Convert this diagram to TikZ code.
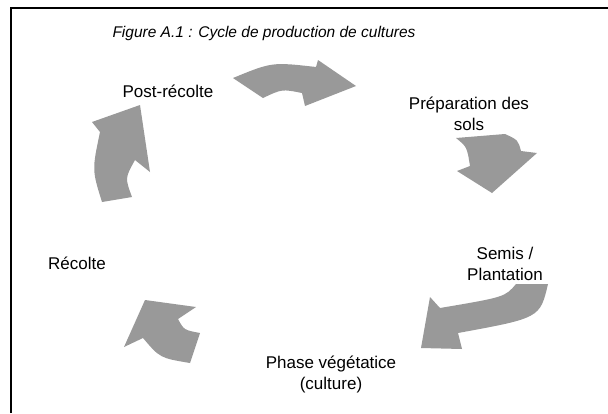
\documentclass[tikz,border=0pt]{standalone}
\usepackage{fontspec}
\setmainfont{Liberation Sans}
\usepackage{tikz}
\usetikzlibrary{positioning}
\definecolor{arrowgray}{RGB}{153,153,153}

\begin{document}
\begin{tikzpicture}[x=1pt,y=-1pt,
    stage/.style={align=center,inner sep=0pt,font=\fontsize{17}{21}\selectfont},
    cyclearrow/.style={fill=arrowgray,draw=none}]
  \useasboundingbox (0,0) rectangle (608,413);
  \draw[line width=2pt] (11,413) -- (11,8) -- (608,8);
  \node[font=\fontsize{15.5}{18}\selectfont\itshape] (title) at (264,33) {Figure A.1 : Cycle de production de cultures};
  \node[stage] (post) at (168,91) {Post-récolte};
  \node[stage] (prep) at (469,114) {Préparation des\\sols};
  \node[stage] (semis) at (505,264) {Semis /\\Plantation};
  \node[stage] (phase) at (331,374) {Phase végétatice\\(culture)};
  \node[stage] (recolte) at (77,263) {Récolte};
  % Post-récolte -> Préparation
  \fill[cyclearrow] (233,78) .. controls (272,62) .. (316,67) -- (318,60) -- (356,86)
    -- (305,106) -- (302,93) .. controls (282,89) .. (263,98) -- cycle;
  % Préparation -> Semis
  \fill[cyclearrow] (505,134) .. controls (518,140) .. (521,151) -- (537,153) -- (492,193)
    -- (457,171) -- (470,166) .. controls (467,147) .. (456,138) -- cycle;
  % Semis -> Phase
  \fill[cyclearrow] (548,284) .. controls (540,318) .. (458,333) -- (462,349) -- (421,348)
    -- (430,297) -- (440,308) .. controls (505,297) .. (516,284) -- cycle;
  % Phase -> Récolte
  \fill[cyclearrow] (145,300) -- (196,307) -- (178,319) .. controls (184,330) .. (200,333)
    -- (190,363) .. controls (160,358) .. (143,338) -- (124,347) -- cycle;
  % Récolte -> Post-récolte
  \fill[cyclearrow] (102,202) -- (132,197) .. controls (125,178) .. (135,160) -- (150,172)
    -- (140,105) -- (92,122) -- (100,132) .. controls (92,170) .. (102,202) -- cycle;
\end{tikzpicture}
\end{document}
